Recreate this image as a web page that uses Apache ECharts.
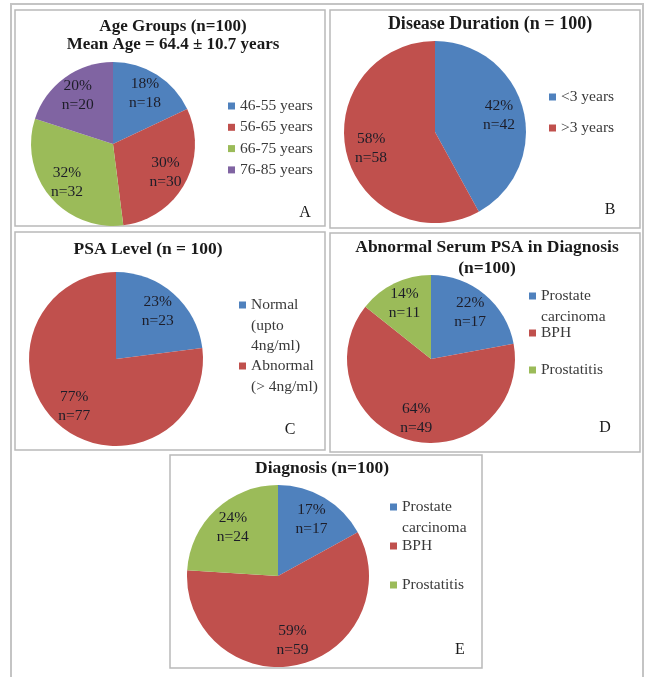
<!DOCTYPE html>
<html><head><meta charset="utf-8">
<script src="https://cdn.jsdelivr.net/npm/echarts@6/dist/echarts.min.js"></script>
<style>html,body{margin:0;padding:0;background:#fff}#c{width:645px;height:677px}</style>
</head><body><div id="c"></div>
<script>
// ---- data ----
const ageNames = ['46-55 years', '56-65 years', '66-75 years', '76-85 years'];
const ageValues = [18, 30, 32, 20];
const durationNames = ['<3 years', '>3 years'];
const durationValues = [42, 58];
const psaNames = ['Normal\n(upto\n4ng/ml)', 'Abnormal\n(> 4ng/ml)'];
const psaValues = [23, 77];
const abnormalNames = ['Prostate\ncarcinoma', 'BPH', 'Prostatitis'];
const abnormalValues = [17, 49, 11];
const diagnosisNames = ['Prostate\ncarcinoma', 'BPH', 'Prostatitis'];
const diagnosisValues = [17, 59, 24];
const titleA = ['Age Groups (n=100)', 'Mean Age = 64.4 \u00b1 10.7 years'];
const titleB = ['Disease Duration (n = 100)'];
const titleC = ['PSA Level (n = 100)'];
const titleD = ['Abnormal Serum PSA in Diagnosis', '(n=100)'];
const titleE = ['Diagnosis (n=100)'];
const panelLetters = ['A', 'B', 'C', 'D', 'E'];

// ---- styles / layout ----
const BLUE = '#4F81BD', RED = '#C0504D', GREEN = '#9BBB59', PURPLE = '#8064A2';
const FONT = '"Liberation Serif", "DejaVu Serif", serif';
const panels = [
  { names: ageNames, values: ageValues, colors: [BLUE, RED, GREEN, PURPLE], center: [113, 144], r: 82,
    title: titleA, titleX: 173, titleY: [27, 45], titleSize: 17, legend: { left: 228, top: 97, gap: 3.3 },
    letter: [305, 213], box: [15, 10, 325, 226] },
  { names: durationNames, values: durationValues, colors: [BLUE, RED], center: [435, 132], r: 91,
    title: titleB, titleX: 490, titleY: [24], titleSize: 18, legend: { left: 549, top: 88, gap: 13 },
    letter: [610, 210], box: [330, 10, 640, 228] },
  { names: psaNames, values: psaValues, colors: [BLUE, RED], center: [116, 359], r: 87,
    title: titleC, titleX: 148, titleY: [249], titleSize: 17.5, legend: { left: 239, top: 296, gap: 43 },
    letter: [290, 430], box: [15, 232, 325, 450] },
  { names: abnormalNames, values: abnormalValues, colors: [BLUE, RED, GREEN], center: [431, 359], r: 84,
    title: titleD, titleX: 487, titleY: [247, 268], titleSize: 17.5, legend: { left: 529, top: 287, gap: 19 },
    letter: [605, 428], box: [330, 233, 640, 452] },
  { names: diagnosisNames, values: diagnosisValues, colors: [BLUE, RED, GREEN], center: [278, 576], r: 91,
    title: titleE, titleX: 322, titleY: [468], titleSize: 17.5, legend: { left: 390, top: 498, gap: 21 },
    letter: [460, 650], box: [170, 455, 482, 668] }
];
const LABEL_K = 1.36;
const LEG_LINE = 18, CONT_LINE = 20, LEG_SIZE = 15.5;

const series = [], legends = [], graphic = [];
// outer frame
graphic.push({ type: 'rect', shape: { x: 11, y: 4, width: 632, height: 700 },
  style: { fill: 'none', stroke: '#c4c4c4', lineWidth: 2 }, silent: true });

panels.forEach((p, pi) => {
  const cx = p.center[0], cy = p.center[1];
  series.push({
    type: 'pie', center: p.center, radius: p.r, startAngle: 90, clockwise: true,
    percentPrecision: 0, animation: false, silent: true,
    data: p.names.map((n, i) => ({ name: n, value: p.values[i], itemStyle: { color: p.colors[i] } })),
    itemStyle: { borderWidth: 0 },
    label: { position: 'inside', formatter: '{d}%\nn={c}', fontFamily: FONT, fontSize: 15.5,
      lineHeight: 19, color: '#1d1d28' },
    labelLine: { show: false },
    labelLayout: function (prm) {
      const r = prm.labelRect;
      const lx = r.x + r.width / 2, ly = r.y + r.height / 2;
      return { x: cx + (lx - cx) * LABEL_K, y: cy + (ly - cy) * LABEL_K, align: 'center', verticalAlign: 'middle' };
    }
  });
  legends.push({
    orient: 'vertical', left: p.legend.left, top: p.legend.top, padding: 0,
    itemGap: p.legend.gap, itemWidth: 7, itemHeight: 7, icon: 'rect', selectedMode: false,
    data: p.names.slice(),
    formatter: name => name.split('\n')[0],
    textStyle: { fontFamily: FONT, fontSize: LEG_SIZE, lineHeight: LEG_LINE, color: '#3a3a3a' }
  });
  // continuation lines of multi-line legend entries
  p.names.forEach((n, i) => {
    const lines = n.split('\n');
    if (lines.length > 1) {
      const itemCenter = p.legend.top + LEG_LINE / 2 + i * (LEG_LINE + p.legend.gap);
      graphic.push({ type: 'text', x: p.legend.left + 12, y: itemCenter + CONT_LINE / 2 + 0.5, silent: true,
        style: { text: lines.slice(1).join('\n'), fontFamily: FONT, fontSize: LEG_SIZE, lineHeight: CONT_LINE,
          fill: '#3a3a3a', align: 'left', verticalAlign: 'top' } });
    }
  });
  // panel box
  const b = p.box;
  graphic.push({ type: 'rect', shape: { x: b[0], y: b[1], width: b[2] - b[0], height: b[3] - b[1] },
    style: { fill: 'none', stroke: '#b9b9b9', lineWidth: 1.5 }, silent: true });
  // titles
  p.title.forEach((t, ti) => {
    graphic.push({ type: 'text', x: p.titleX, y: p.titleY[ti], silent: true,
      style: { text: t, fontFamily: FONT, fontSize: p.titleSize, fontWeight: 'bold', fill: '#1a1a1a',
        align: 'center', verticalAlign: 'middle' } });
  });
  // panel letter
  graphic.push({ type: 'text', x: p.letter[0], y: p.letter[1], silent: true,
    style: { text: panelLetters[pi], fontFamily: FONT, fontSize: 16, fill: '#1a1a1a',
      align: 'center', verticalAlign: 'middle' } });
});

const chart = echarts.init(document.getElementById('c'), null, { renderer: 'canvas' });
chart.setOption({
  backgroundColor: '#ffffff',
  animation: false,
  series: series,
  legend: legends,
  graphic: graphic
});
</script>
</body></html>
